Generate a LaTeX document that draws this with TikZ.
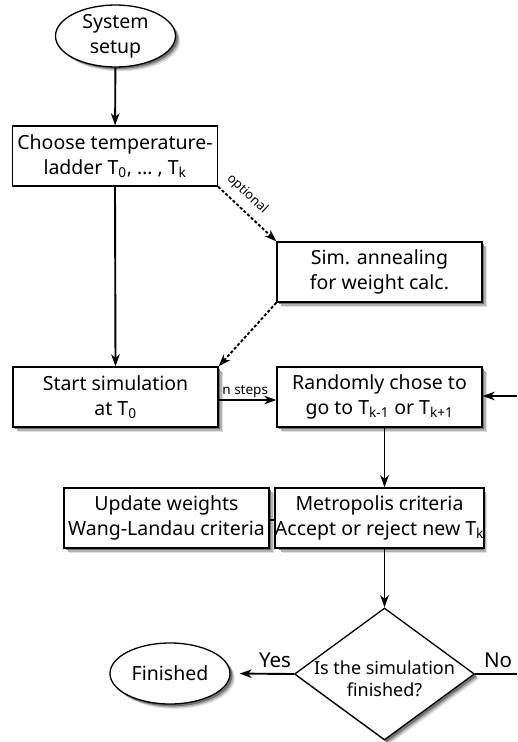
\documentclass[tikz,border=0pt]{standalone}
\usepackage{fontspec}
\setmainfont{Noto Sans}
\usetikzlibrary{shapes.geometric,arrows.meta}
\newcommand\mkshadow[4]{%
  \node[#1, draw=none, fill=black!12] (#2-s1) at (#3+4.8,#4+4.8) {};
  \node[#1, draw=none, fill=black!30] (#2-s2) at (#3+3.6,#4+3.6) {};
  \node[#1, draw=none, fill=black!55] (#2-s3) at (#3+2.3,#4+2.3) {};
}
\begin{document}
\begin{tikzpicture}[x=1pt,y=-1pt,
  base/.style={font=\fontsize{19.5}{25}\selectfont, align=center, draw=black, line width=1.3pt, fill=white, inner sep=0pt},
  stepbox/.style={base, rectangle, minimum width=205pt, minimum height=60pt},
  term/.style={base, ellipse, minimum width=120pt, minimum height=61pt},
  dec/.style={base, diamond, minimum width=180pt, minimum height=132pt},
  conn/.style={line width=1.9pt, -{Stealth[length=12pt,width=8.5pt,inset=3.5pt]}},
  dconn/.style={conn, dash pattern=on 3pt off 2pt},
  plain/.style={line width=1.9pt},
  small/.style={font=\fontsize{13.5}{16}\selectfont, inner sep=1.5pt},
  big/.style={font=\fontsize{20.5}{24}\selectfont, inner sep=0pt},
]
\useasboundingbox (0,0) rectangle (517,742);
\mkshadow{term}{setup}{115.5}{36}
\mkshadow{stepbox}{sim}{379.5}{272}
\mkshadow{stepbox}{start}{115.5}{397}
\mkshadow{stepbox}{rand}{379.5}{397}
\mkshadow{stepbox}{upd}{166.5}{518}
\mkshadow{stepbox}{metro}{379.5}{518}
\mkshadow{dec}{dec}{384.5}{674}
\mkshadow{term}{fin}{170}{673.5}
\node[term] (setup) at (115.5,36) {System\\setup};
\node[stepbox] (ladder) at (115,156) {Choose temperature-\\ladder T\textsubscript{0}, … , T\textsubscript{k}};
\node[stepbox] (sim) at (379.5,272) {Sim. annealing\\for weight calc.};
\node[stepbox] (start) at (115.5,397) {Start simulation\\at T\textsubscript{0}};
\node[stepbox] (rand) at (379.5,397) {Randomly chose to\\go to T\textsubscript{k-1} or T\textsubscript{k+1}};
\node[stepbox] (upd) at (166.5,518) {Update weights\\Wang-Landau criteria};
\node[stepbox] (metro) at (379.5,518) {Metropolis criteria\\Accept or reject new T\textsubscript{k}};
\node[dec] (dec) at (384.5,674) {};
\node[font=\fontsize{18}{22}\selectfont, align=center, inner sep=0pt] (dectext) at (384.5,679) {Is the simulation\\finished?};
\node[term] (fin) at (170,673.5) {Finished};
\coordinate (inR) at (517,396);
\coordinate (noend) at (517,674);

\draw[conn] (setup) -- (ladder);
\draw[conn] (ladder.south) -- (start.north);
\draw[dconn] (ladder.south east) -- node[sloped, above=7pt, pos=0.33, font=\fontsize{13}{15}\selectfont, inner sep=0pt] (optlbl) {optional} (sim.north west);
\draw[dconn] (sim.south west) -- (start.north east);
\draw[conn] ([yshift=-3pt]start.east) -- node[small, above, pos=0.46] (nsteps) {n steps} ([yshift=-3pt]rand.west);
\draw[conn] (inR) -- (inR -| rand.east);
\draw[conn] ([xshift=5pt]rand.south) -- ([xshift=5pt]metro.north);
\draw[plain] ([yshift=-2pt]upd.east) -- ([yshift=-2pt]metro.west);
\draw[conn] ([xshift=5pt]metro.south) -- (dec.north);
\draw[conn, shorten >=9pt] (dec.west) -- (fin.east);
\draw[plain] (dec.east) -- (noend);
\node[big] (yes) at (275,660) {Yes};
\node[big] (no) at (498,660) {No};
\end{tikzpicture}
\end{document}
